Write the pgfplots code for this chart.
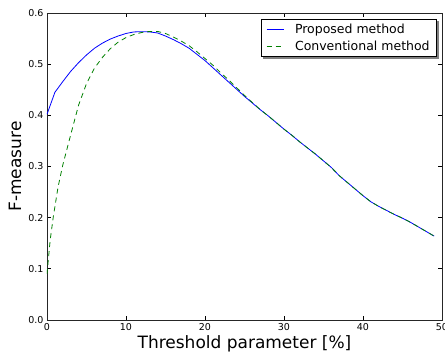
\documentclass[border=0pt]{standalone}
\usepackage{fontspec}
\setmainfont{DejaVu Sans}
\usepackage{pgfplots}
\pgfplotsset{compat=1.18}
\usetikzlibrary{calc}
\pgfdeclarelayer{background}
\pgfsetlayers{background,main}
\definecolor{mplgreen}{rgb}{0,0.5,0}
\begin{document}
\begin{tikzpicture}
\useasboundingbox (0,0) rectangle (445pt,356pt);
\begin{axis}[
 at={(47pt,36pt)}, anchor=south west,
 scale only axis, width=395pt, height=307pt,
 xmin=0, xmax=50, ymin=0, ymax=0.6,
 xtick={0,10,20,30,40,50},
 ytick={0,0.1,0.2,0.3,0.4,0.5,0.6},
 axis line style={line width=0.9pt, black!85},
 tick style={line width=0.7pt, black},
 major tick length=4pt,
 tick align=inside,
 /pgf/number format/assume math mode=true,
 tick label style={font=\fontsize{9.5}{11}\selectfont},
 yticklabel style={/pgf/number format/fixed, /pgf/number format/fixed zerofill, /pgf/number format/precision=1},
 xlabel={Threshold parameter [\%]},
 ylabel={F-measure},
 every axis x label/.style={at={(axis description cs:0.5,-0.0944)}, anchor=base, font=\fontsize{17}{20}\selectfont},
 every axis y label/.style={at={(axis description cs:-0.081,0.5)}, rotate=90, anchor=center, font=\fontsize{17}{20}\selectfont},
 legend style={name=leg, at={(0.987,0.979)}, anchor=north east, font=\fontsize{12.5}{14}\selectfont,
   draw=black, fill=white, inner xsep=5pt, inner ysep=2.5pt, row sep=2pt},
 legend cell align=left,
]
\addplot[blue, line width=0.8pt] coordinates {
(0,0.402) (1,0.445) (2,0.466) (3,0.486) (4,0.503) (5,0.518) (6,0.531) (7,0.541) (8,0.549) (9,0.555)
(10,0.560) (11,0.563) (12,0.5635) (13,0.563) (14,0.561) (15,0.555) (16,0.548) (17,0.540) (18,0.531) (19,0.519)
(20,0.507) (21,0.493) (22,0.479) (23,0.465) (24,0.451) (25,0.437) (26,0.424) (27,0.411) (28,0.399) (29,0.386)
(30,0.373) (31,0.361) (32,0.348) (33,0.336) (34,0.324) (35,0.311) (36,0.298) (37,0.282) (38,0.269) (39,0.256)
(40,0.243) (41,0.231) (42,0.222) (43,0.214) (44,0.206) (45,0.199) (46,0.191) (47,0.182) (48,0.173) (49,0.164)
};
\addlegendentry{\hspace{9pt}Proposed method}
\addplot[mplgreen, line width=0.8pt, dash pattern=on 5pt off 4pt] coordinates {
(0,0.09) (0.4,0.156) (0.8,0.202) (1.4,0.26) (2,0.303) (3,0.362) (4,0.42) (5,0.462) (6,0.492) (7,0.513)
(8,0.530) (9,0.543) (10,0.552) (11,0.558) (12,0.562) (13,0.564) (14,0.564) (15,0.560) (16,0.553) (17,0.545)
(18,0.536) (19,0.524) (20,0.511) (21,0.498) (22,0.483) (23,0.469) (24,0.454) (25,0.439) (26,0.425) (27,0.411)
(28,0.399) (29,0.386) (30,0.373) (31,0.361) (32,0.348) (33,0.336) (34,0.324) (35,0.311) (36,0.298) (37,0.282)
(38,0.269) (39,0.256) (40,0.243) (41,0.231) (42,0.222) (43,0.214) (44,0.206) (45,0.199) (46,0.191) (47,0.182)
(48,0.173) (49,0.164)
};
\addlegendentry{\hspace{9pt}Conventional method}
\end{axis}
\begin{pgfonlayer}{background}
\fill[black!50] ($(leg.south west)+(2pt,-2pt)$) rectangle ($(leg.north east)+(2pt,-2pt)$);
\end{pgfonlayer}
\end{tikzpicture}
\end{document}
